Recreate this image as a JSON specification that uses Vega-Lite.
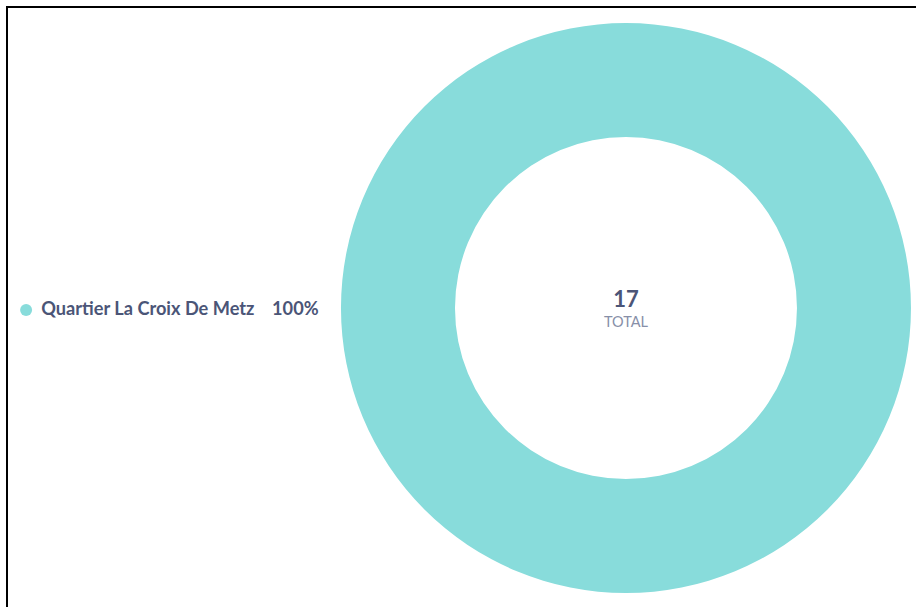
{
  "$schema": "https://vega.github.io/schema/vega-lite/v6.json",
  "width": 912,
  "height": 603,
  "autosize": {"type": "none"},
  "padding": {"left": 7, "top": 7, "right": 0, "bottom": 0},
  "background": "white",
  "config": {
    "view": {"stroke": "black", "strokeWidth": 2},
    "font": "Lato"
  },
  "data": {"values": [{"quartier": "Quartier La Croix De Metz", "count": 17}]},
  "layer": [
    {
      "mark": {"type": "arc", "innerRadius": 171, "radius": 285},
      "encoding": {
        "theta": {"field": "count", "type": "quantitative"},
        "x": {"datum": 0.6787, "type": "quantitative", "scale": {"domain": [0, 1]}, "axis": null},
        "y": {"datum": 0.5008, "type": "quantitative", "scale": {"domain": [0, 1]}, "axis": null},
        "color": {
          "field": "quartier",
          "type": "nominal",
          "scale": {"range": ["#88dcdb"]},
          "legend": {
            "orient": "none",
            "legendX": 10,
            "legendY": 294,
            "title": null,
            "symbolType": "circle",
            "symbolSize": 144,
            "symbolStrokeWidth": 0,
            "labelFont": "Lato",
            "labelFontSize": 18.2,
            "labelFontWeight": "bold",
            "labelColor": "#4b5577",
            "labelOffset": 6,
            "labelLimit": 0,
            "labelExpr": "datum.label + '\u00a0\u00a0\u00a0\u00a0100%'"
          }
        }
      }
    },
    {
      "mark": {"type": "text", "font": "Lato", "fontSize": 22, "fontWeight": "bold", "color": "#4b5577", "dy": -8},
      "encoding": {
        "text": {"field": "count", "type": "quantitative"},
        "x": {"datum": 0.6787, "type": "quantitative"},
        "y": {"datum": 0.5008, "type": "quantitative"}
      }
    },
    {
      "mark": {"type": "text", "font": "Lato", "fontSize": 14.5, "color": "#878fa8", "dy": 15},
      "encoding": {
        "text": {"value": "TOTAL"},
        "x": {"datum": 0.6787, "type": "quantitative"},
        "y": {"datum": 0.5008, "type": "quantitative"}
      }
    }
  ]
}
